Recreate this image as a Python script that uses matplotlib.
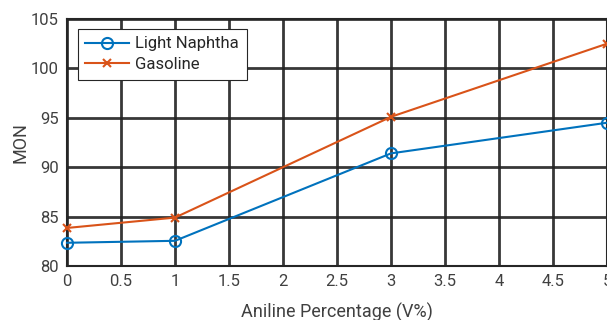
import matplotlib
matplotlib.use("Agg")
import matplotlib.pyplot as plt
import numpy as np

aniline_pct = [0, 1, 3, 5]
light_naphtha = [82.35, 82.55, 91.4, 94.5]
gasoline = [83.85, 84.9, 95.1, 102.5]

x_ticks = np.arange(0, 5.01, 0.5)
y_ticks = np.arange(80, 105.01, 5)

plt.rcParams["font.family"] = ["Roboto", "DejaVu Sans"]

fig = plt.figure(figsize=(6.07, 3.2), dpi=100)
ax = fig.add_axes([67 / 607, 54 / 320, 540 / 607, 247 / 320])

ax.plot(aniline_pct, light_naphtha, color="#0072BD", lw=1.5, marker="o",
        ms=8, mfc="none", mew=1.5, label="Light Naphtha", clip_on=False, zorder=3)
ax.plot(aniline_pct, gasoline, color="#D95319", lw=1.5, marker="x",
        ms=6, mew=1.5, label="Gasoline", clip_on=False, zorder=3)

ax.set_xlim(0, 5)
ax.set_ylim(80, 105)
ax.set_xticks(x_ticks)
ax.set_xticklabels(["0", "0.5", "1", "1.5", "2", "2.5", "3", "3.5", "4", "4.5", "5"])
ax.set_yticks(y_ticks)
ax.grid(True, color="#222222", lw=2, alpha=0.9)
ax.set_axisbelow(True)
for s in ax.spines.values():
    s.set_color("#262626")
    s.set_linewidth(1.5)
ax.tick_params(length=0, labelsize=12, colors="#404040", pad=6)

ax.set_xlabel("Aniline Percentage (V%)", fontsize=13, color="#404040", labelpad=10)
ax.set_ylabel("MON", fontsize=13, color="#404040", labelpad=1)

leg = ax.legend(loc="upper left", bbox_to_anchor=(0.02, 0.96), borderaxespad=0,
                fontsize=12, frameon=True, fancybox=False, handlelength=2.6,
                borderpad=0.45, labelspacing=0.35, handletextpad=0.4)
leg.get_frame().set_edgecolor("#262626")
leg.get_frame().set_linewidth(0.8)
leg.get_frame().set_alpha(1)
for t in leg.get_texts():
    t.set_color("#262626")

fig.savefig("out.png", dpi=100)
